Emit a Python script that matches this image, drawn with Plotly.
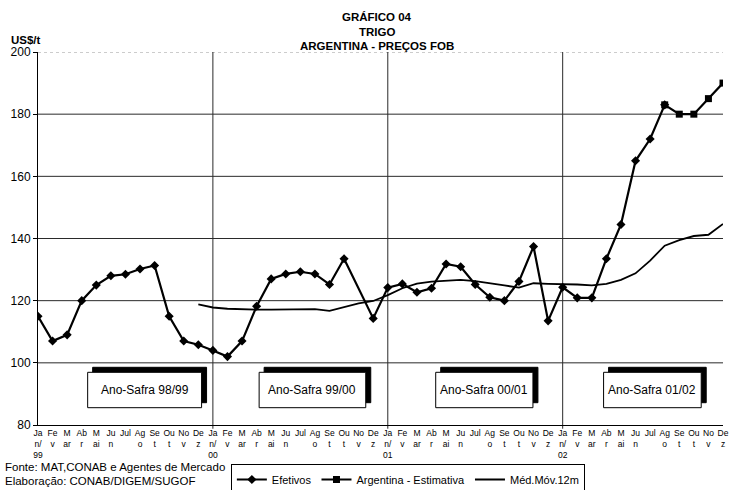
import plotly.graph_objects as go

# ---- data -------------------------------------------------------------
month_labels = ["Ja<br>n/<br>{yy}", "Fe<br>v", "M<br>ar", "Ab<br>r", "M<br>ai", "Ju<br>n",
                "Jul", "Ag<br>o", "Se<br>t", "Ou<br>t", "No<br>v", "De<br>z"]
years = ["99", "00", "01", "02"]

efetivos = [115, 107, 109, 120, 125, 128, 128.5, 130.2, 131.3, 115, 107, 105.8,
            104, 102, 107, 118.2, 127, 128.6, 129.3, 128.6, 125.2, 133.5, None, 114.3,
            124.2, 125.4, 122.7, 124, 131.8, 130.9, 125.2, 121.1, 120, 126.2, 137.4, 113.5,
            124.3, 120.9, 120.9, 133.5, 144.5, 165, 172, 183]

estimativa_start = 43
estimativa = [183, 180, 180, 185, 190]

media_movel_start = 11
media_movel = [118.8,
               117.8, 117.4, 117.2, 117.1, 117.1, 117.2, 117.4, 117.3, 116.7, 118.0, 119.1, 119.9,
               121.8, 124.0, 125.5, 126.1, 126.5, 126.7, 126.3, 125.7, 124.9, 124.2, 125.6, 125.4,
               125.4, 125.2, 124.9, 125.4, 126.7, 128.8, 132.9, 137.7, 139.5, 140.8, 141.2, 144.7]

safras = ["Ano-Safra 98/99", "Ano-Safra 99/00", "Ano-Safra 00/01", "Ano-Safra 01/02"]

# ---- derived axis positions --------------------------------------------
tick_text = [lab.format(yy=y) for y in years for lab in month_labels]
x_all = list(range(len(tick_text)))
x_est = x_all[estimativa_start:estimativa_start + len(estimativa)]
x_mm = x_all[media_movel_start:media_movel_start + len(media_movel)]

W, H = 731, 490
ML, MR, MT, MB = 38, 7.5, 52, 65
PW, PH = W - ML - MR, H - MT - MB


def px_x(px):
    return (px - ML) / PW


def px_y(py):
    return (H - MB - py) / PH


FONT = "Liberation Sans, Arial, sans-serif"

fig = go.Figure()

fig.add_trace(go.Scatter(
    x=x_all[:len(efetivos)], y=efetivos, name="Efetivos", mode="lines+markers",
    connectgaps=True,
    line=dict(color="black", width=2.2),
    marker=dict(symbol="diamond", size=7, color="black"),
))
fig.add_trace(go.Scatter(
    x=x_est, y=estimativa, name="Argentina - Estimativa", mode="lines+markers",
    line=dict(color="black", width=2.2),
    marker=dict(symbol="square", size=7, color="black"),
))
fig.add_trace(go.Scatter(
    x=x_mm, y=media_movel, name="Méd.Móv.12m", mode="lines",
    line=dict(color="black", width=1.8),
))

shapes = []
# horizontal grid
for gy in [100, 120, 140, 160, 180]:
    shapes.append(dict(type="line", xref="paper", yref="y", x0=0, x1=1, y0=gy, y1=gy,
                       line=dict(color="#2a2a2a", width=1), layer="below"))
shapes.append(dict(type="line", xref="paper", yref="y", x0=0, x1=1, y0=200, y1=200,
                   line=dict(color="#999999", width=1, dash="dot"), layer="below"))
# year separators
for xv in [12, 24, 36]:
    shapes.append(dict(type="line", xref="x", yref="paper", x0=xv, x1=xv, y0=-0.01, y1=1,
                       line=dict(color="#2a2a2a", width=1), layer="below"))

# crop-year boxes (shadow + framed box)
box_px = [(87.7, 201.7), (259.3, 366.0), (436.0, 533.3), (604.0, 701.7)]
by0, by1 = 372.3, 407.7
annotations = []
for (bx0, bx1), txt in zip(box_px, safras):
    shapes.append(dict(type="rect", xref="paper", yref="paper",
                       x0=px_x(bx0 + 5), x1=px_x(bx1 + 5), y0=px_y(by1 - 5), y1=px_y(by0 - 5),
                       fillcolor="black", line=dict(color="black", width=1), layer="above"))
    shapes.append(dict(type="rect", xref="paper", yref="paper",
                       x0=px_x(bx0), x1=px_x(bx1), y0=px_y(by1), y1=px_y(by0),
                       fillcolor="white", line=dict(color="black", width=1), layer="above"))
    annotations.append(dict(xref="paper", yref="paper", x=px_x((bx0 + bx1) / 2),
                            y=px_y((by0 + by1) / 2), text=txt, showarrow=False,
                            font=dict(family=FONT, size=12, color="black"),
                            xanchor="center", yanchor="middle"))

# titles
for txt, py in [("GRÁFICO 04", 17), ("TRIGO", 32), ("ARGENTINA - PREÇOS FOB", 46)]:
    annotations.append(dict(xref="paper", yref="paper", x=px_x(377), y=px_y(py),
                            text=f"<b>{txt}</b>", showarrow=False, xanchor="center",
                            yanchor="middle", font=dict(family=FONT, size=11.5, color="black")))
annotations.append(dict(xref="paper", yref="paper", x=px_x(9), y=px_y(40),
                        text="<b>US$/t</b>", showarrow=False, xanchor="left", yanchor="middle",
                        font=dict(family=FONT, size=11.5, color="black")))
# footer
for txt, py in [("Fonte: MAT,CONAB e Agentes de Mercado", 467),
                ("Elaboração: CONAB/DIGEM/SUGOF", 481)]:
    annotations.append(dict(xref="paper", yref="paper", x=px_x(3), y=px_y(py), text=txt,
                            showarrow=False, xanchor="left", yanchor="middle",
                            font=dict(family=FONT, size=11.5, color="black")))

fig.update_layout(
    width=W, height=H,
    margin=dict(l=ML, r=MR, t=MT, b=MB, pad=0, autoexpand=False),
    paper_bgcolor="white", plot_bgcolor="white",
    font=dict(family=FONT, color="black"),
    showlegend=True,
    legend=dict(orientation="h", x=px_x(231), y=px_y(464), xanchor="left", yanchor="top",
                bordercolor="black", borderwidth=1, bgcolor="white",
                font=dict(family=FONT, size=11, color="black"),
                itemwidth=30, tracegroupgap=0),
    shapes=shapes,
    annotations=annotations,
    xaxis=dict(range=[0, len(tick_text) - 1], tickmode="array", tickvals=x_all,
               ticktext=tick_text, tickangle=0, showgrid=False, zeroline=False,
               showline=True, linecolor="black", linewidth=1, ticks="", automargin=False,
               tickfont=dict(family=FONT, size=8.5, color="black")),
    yaxis=dict(range=[80, 200], tickmode="array", tickvals=[80, 100, 120, 140, 160, 180, 200],
               showgrid=False, zeroline=False, showline=True, linecolor="black", linewidth=1,
               ticks="outside", ticklen=4, tickcolor="black", automargin=False,
               tickfont=dict(family=FONT, size=12, color="black")),
)

fig.write_html("out.html")
